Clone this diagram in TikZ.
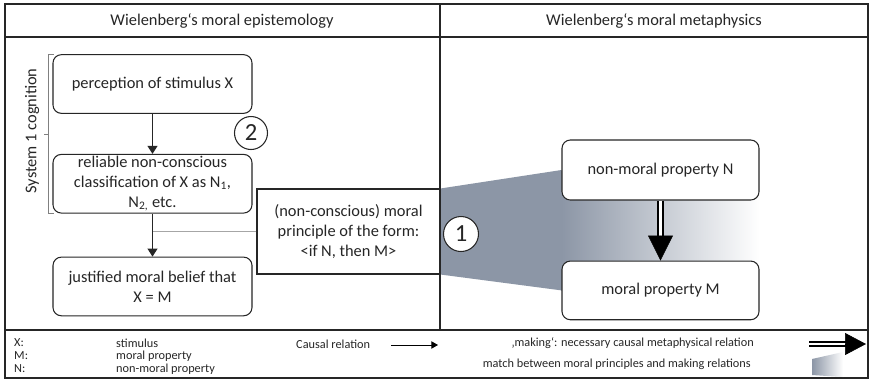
\documentclass[tikz,border=0pt]{standalone}
\usepackage{fontspec}
\setmainfont{Carlito}
\usetikzlibrary{arrows.meta,positioning,calc,backgrounds}
\definecolor{slate}{RGB}{140,150,166}
\definecolor{ink}{RGB}{38,38,38}

\begin{document}
\begin{tikzpicture}[
  x=0.03cm, y=-0.03cm,
  node distance=1.2cm,
  font=\fontsize{14}{17}\selectfont,
  text=ink,
  frame/.style={draw=ink, line width=1.1pt},
  box/.style={draw=ink, line width=0.9pt, rounded corners=0.25cm, fill=white,
    align=center, minimum width=5.97cm, minimum height=1.76cm, inner sep=0.5pt},
  num/.style={draw=ink, line width=0.9pt, circle, fill=white, inner sep=0pt,
    font=\fontsize{21}{21}\selectfont},
  cause/.style={draw=ink, line width=0.9pt, -{Triangle[length=2.4mm,width=3mm]}},
  makes/.style={draw=black, double, line width=0.075cm, double distance=0.08cm},
  legend/.style={font=\fontsize{10.5}{12}\selectfont, inner sep=0pt}
]
\useasboundingbox (0,0) rectangle (869,380);

% frame and columns
\draw[frame] (5,4) rectangle (868,378);
\draw[frame] (5,37) -- (868,37);
\draw[frame] (5,330) -- (868,330);
\draw[frame] (440,4) -- (440,330);

\node (title1) at (222,21) {Wielenberg‘s moral epistemology};
\node (title2) at (654,21) {Wielenberg‘s moral metaphysics};

% epistemology
\node[box] (perc) at (152.5,84) {perception of stimulus X};
\node[box, below=1.2cm of perc] (cls) {reliable non-conscious\\classification of X as N\textsubscript{1},\\N\textsubscript{2,} etc.};
\node[box, below=1.29cm of cls] (belief) {justified moral belief that\\X = M};
\node[box, rounded corners=0pt, minimum width=5.49cm, minimum height=2.55cm] (princ) at (348.5,231.5)
  {(non-conscious) moral\\principle of the form:\\<if N, then M>};
\draw[gray!70, line width=0.6pt] (princ.west) -- (princ.west -| cls.south);
\draw[cause] (perc) -- (cls);
\draw[cause] (cls) -- (belief);
\node[num, minimum size=0.99cm] (c2) at (251,133) {2};

% system 1 bracket
\node[rotate=90] (sys) at (32,131) {System 1 cognition};
\draw[gray, line width=0.6pt] ([xshift=1pt]perc.north west) -- ++(-0.15cm,0) |- ([xshift=1pt]cls.south west);
\draw[gray, line width=0.6pt] ($(perc.north west)!0.5!(cls.south west)+(-0.12cm,0)$) -- ++(-0.12cm,0);

% metaphysics
\node[box, minimum width=5.91cm, minimum height=1.8cm] (nonmoral) at (660.5,170) {non-moral property N};
\node[box, minimum width=5.91cm, below=1.8cm of nonmoral] (moral) {moral property M};
\draw[makes, shorten >=0.75cm] (nonmoral) -- (moral);
\draw[-{Triangle[length=0.75cm,width=0.75cm]}, line width=0.5pt, shorten <=1.05cm] (nonmoral) -- (moral);
\node[num, minimum size=1.05cm] (c1) at (461,234) {1};

\begin{scope}[on background layer]
  \fill[slate] (princ.north east) -- (nonmoral.west) -- (moral.west) -- (princ.south east) -- cycle;
  \shade[left color=slate, right color=white] (nonmoral.west) rectangle (moral.east);
\end{scope}

% legend
\node[legend, anchor=west] (kx) at (14,343) {X:};
\node[legend, anchor=west] (km) at (14,356) {M:};
\node[legend, anchor=west] (kn) at (14,369) {N:};
\node[legend, anchor=west] (vx) at (116,343) {stimulus};
\node[legend, anchor=west] (vm) at (116,356) {moral property};
\node[legend, anchor=west] (vn) at (116,369) {non-moral property};
\node[legend, anchor=west] (causal) at (296,344) {Causal relation};
\coordinate (ca) at (391,345);
\coordinate (cb) at (438,345);
\draw[draw=black, line width=0.8pt, -{Triangle[length=2mm,width=2.2mm]}] (ca) -- (cb);

\node[legend, anchor=east] (mk) at (754,343) {‚making‘: necessary causal metaphysical relation};
\node[legend, anchor=east] (mt) at (751,364) {match between moral principles and making relations};
\coordinate (ma) at (809,344);
\coordinate (mb) at (866,344);
\draw[makes, line width=0.06cm, double distance=0.07cm, shorten >=0.6cm] (ma) -- (mb);
\draw[-{Triangle[length=0.63cm,width=0.66cm]}, line width=0.5pt, shorten <=1.08cm] (ma) -- (mb);
\shade[left color=slate, right color=white] (812,359) -- (843,352) -- (843,377) -- (812,375) -- cycle;
\end{tikzpicture}
\end{document}
